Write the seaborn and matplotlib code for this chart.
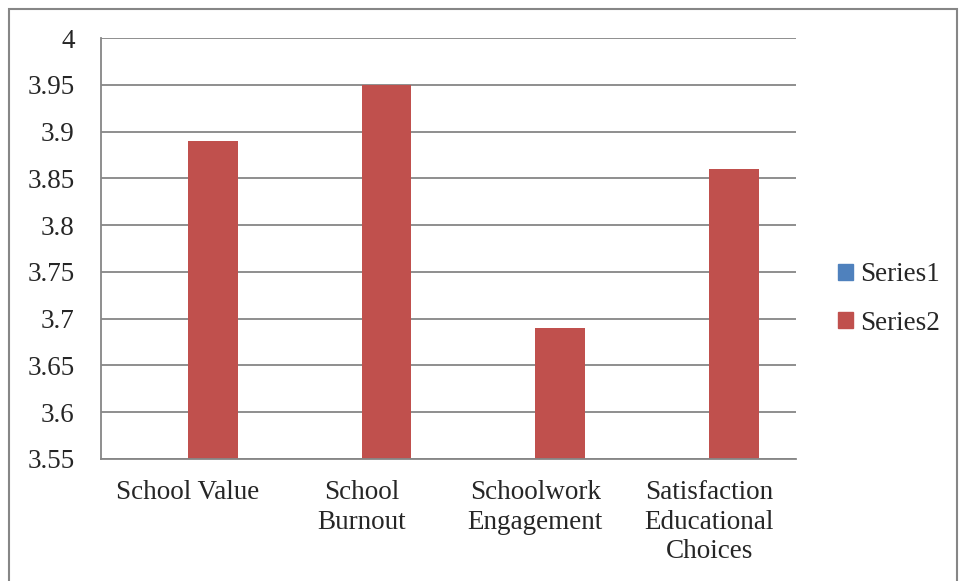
import matplotlib
matplotlib.use("Agg")
import matplotlib.pyplot as plt
import seaborn as sns
import pandas as pd
import numpy as np
from matplotlib.patches import Rectangle

categories = ["School Value", "School\nBurnout", "Schoolwork\nEngagement", "Satisfaction\nEducational\nChoices"]
series1 = [0, 0, 0, 0]
series2 = [3.89, 3.95, 3.69, 3.86]
series_names = ["Series1", "Series2"]
colors = ["#4F81BD", "#C0504D"]
yticks = [3.55, 3.6, 3.65, 3.7, 3.75, 3.8, 3.85, 3.9, 3.95, 4]
ytick_labels = ["3.55", "3.6", "3.65", "3.7", "3.75", "3.8", "3.85", "3.9", "3.95", "4"]

sns.set_style("white")
plt.rcParams["font.family"] = ["Liberation Serif", "DejaVu Serif"]

df = pd.DataFrame({
    "category": categories * 2,
    "value": series1 + series2,
    "series": [series_names[0]] * 4 + [series_names[1]] * 4,
})

grid_color = "#868686"
fs = 19.5
fig = plt.figure(figsize=(9.6, 5.81), dpi=100)
ax = fig.add_axes([101 / 960, 1 - 459 / 581, (796 - 101) / 960, (459 - 38) / 581])

sns.barplot(data=df, x="category", y="value", hue="series", palette=colors,
            width=2 / 3.5, ax=ax, legend=False, saturation=1, errorbar=None,
            linewidth=0)

ax.set_ylim(3.55, 4.0)
ax.set_xlim(-0.5, len(categories) - 0.5)
ax.set_yticks(yticks)
ax.set_yticklabels(ytick_labels)
ax.set_xlabel("")
ax.set_ylabel("")
ax.yaxis.grid(True, color=grid_color, linewidth=1.3)
ax.set_axisbelow(True)
for s in ["top", "right"]:
    ax.spines[s].set_visible(False)
for s in ["left", "bottom"]:
    ax.spines[s].set_color(grid_color)
    ax.spines[s].set_linewidth(1.3)

# category labels centred in each slot, ticks at slot boundaries
ax.set_xticks(np.arange(len(categories)))
ax.set_xticklabels(categories, fontsize=fs, linespacing=1.25)
ax.tick_params(axis="x", length=0, pad=15)
ax.set_xticks(np.arange(len(categories) + 1) - 0.5, minor=True)
ax.tick_params(axis="x", which="minor", length=7, width=1.3, color=grid_color, direction="out")
ax.tick_params(axis="y", length=7, width=1.3, color=grid_color, direction="out", labelsize=fs, pad=12)

# legend
handles = [Rectangle((0, 0), 1, 1, color=c) for c in colors]
fig.legend(handles, series_names, loc="center left", bbox_to_anchor=(814 / 960, 1 - 299 / 581),
           frameon=False, fontsize=fs, handlelength=0.55, handleheight=0.55,
           handletextpad=0.25, labelspacing=0.85)

# outer chart frame
fig.patches.append(Rectangle((9 / 960, -0.01), (957 - 9) / 960, 1 - 9 / 581 + 0.01,
                             transform=fig.transFigure, fill=False,
                             edgecolor=grid_color, linewidth=1.5))

fig.savefig("out.png", dpi=100, facecolor="white")
